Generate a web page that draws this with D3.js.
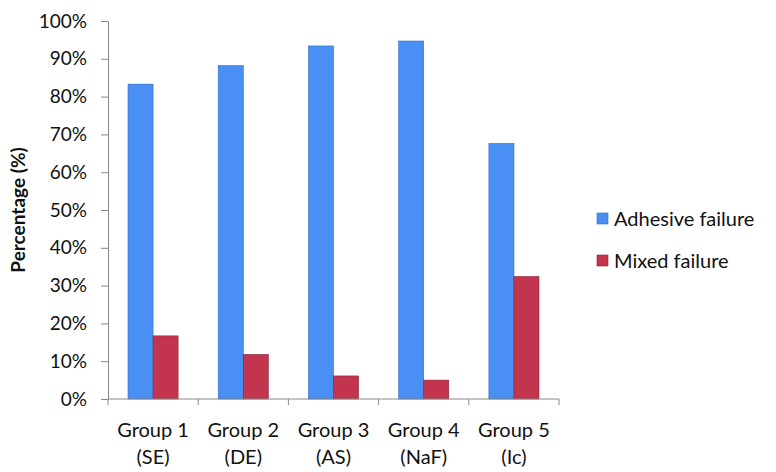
<!DOCTYPE html>
<html>
<head>
<meta charset="utf-8">
<script src="https://cdn.jsdelivr.net/npm/d3@7"></script>
<style>
  body { margin: 0; background: #fff; }
  svg text { font-family: Lato, "Open Sans", sans-serif; fill: #111; }
</style>
</head>
<body>
<div id="chart"></div>
<script>
// Chart data
var groups = ["Group 1", "Group 2", "Group 3", "Group 4", "Group 5"];
var subLabels = ["(SE)", "(DE)", "(AS)", "(NaF)", "(Ic)"];
var seriesNames = ["Adhesive failure", "Mixed failure"];
var adhesive = [83.3, 88.2, 93.4, 94.7, 67.6];
var mixed = [16.7, 11.8, 6.1, 5.0, 32.4];
var yTicks = [0, 10, 20, 30, 40, 50, 60, 70, 80, 90, 100];

function init() {
  var w = 776, h = 472;
  var margin = { left: 108, right: 217, top: 21, bottom: 73 };
  var colors = ["#4a8ff3", "#c3354f"];
  var strokes = ["#2f6cc4", "#8e2236"];

  var svg = d3.select("#chart").append("svg").attr("width", w).attr("height", h);

  // Scales
  var x = d3.scaleBand().domain(groups)
    .range([margin.left, w - margin.right])
    .paddingInner(0.445).paddingOuter(0.222);
  var xs = d3.scaleBand().domain(seriesNames).range([0, x.bandwidth()]);
  var y = d3.scaleLinear().domain([0, 100]).range([h - margin.bottom, margin.top]);

  // Bars
  var series = [adhesive, mixed];
  series.forEach(function (vals, s) {
    svg.append("g").selectAll("rect")
      .data(vals)
      .enter()
      .append("rect")
      .attr("x", (d, i) => x(groups[i]) + xs(seriesNames[s]))
      .attr("y", (d) => y(d))
      .attr("width", xs.bandwidth())
      .attr("height", (d) => y(0) - y(d))
      .attr("fill", colors[s])
      .attr("stroke", strokes[s])
      .attr("stroke-width", 0.6);
  });

  // Y axis
  var yAxis = svg.append("g")
    .attr("transform", "translate(" + margin.left + ",0)")
    .call(d3.axisLeft(y).tickValues(yTicks).tickFormat((d) => d + "%").tickSizeOuter(0).tickSize(7).tickPadding(14));
  yAxis.select(".domain").attr("stroke", "#888");
  yAxis.selectAll(".tick line").attr("stroke", "#888");
  yAxis.selectAll("text").style("font-size", "19px").attr("fill", "#111");

  // X axis: ticks at band boundaries
  var xAxisG = svg.append("g");
  xAxisG.append("line")
    .attr("x1", margin.left).attr("x2", w - margin.right)
    .attr("y1", y(0)).attr("y2", y(0))
    .attr("stroke", "#888");
  var step = x.step();
  var bounds = groups.map((g) => x(g) - step * x.paddingInner() / 2);
  bounds.push(w - margin.right);
  xAxisG.selectAll("line.tk")
    .data(bounds)
    .enter()
    .append("line")
    .attr("class", "tk")
    .attr("x1", (d) => d).attr("x2", (d) => d)
    .attr("y1", y(0)).attr("y2", y(0) + 6)
    .attr("stroke", "#888");

  // X labels (two lines)
  var lab = svg.append("g").selectAll("text")
    .data(groups)
    .enter()
    .append("text")
    .attr("text-anchor", "middle")
    .style("font-size", "20px");
  lab.append("tspan")
    .attr("x", (d) => x(d) + x.bandwidth() / 2)
    .attr("y", 437)
    .text((d) => d);
  lab.append("tspan")
    .attr("x", (d) => x(d) + x.bandwidth() / 2)
    .attr("y", 464)
    .text((d, i) => subLabels[i]);

  // Y axis title
  svg.append("text")
    .attr("transform", "translate(25," + ((margin.top + h - margin.bottom) / 2) + ") rotate(-90)")
    .attr("text-anchor", "middle")
    .style("font-size", "19px")
    .style("font-weight", "bold")
    .text("Percentage (%)");

  // Legend
  var legend = svg.append("g").selectAll("g")
    .data(seriesNames)
    .enter()
    .append("g")
    .attr("transform", (d, i) => "translate(597," + (213 + i * 42) + ")");
  legend.append("rect")
    .attr("width", 11).attr("height", 11)
    .attr("fill", (d, i) => colors[i])
    .attr("stroke", (d, i) => strokes[i])
    .attr("stroke-width", 0.6);
  legend.append("text")
    .attr("x", 17).attr("y", 13)
    .style("font-size", "20px")
    .text((d) => d);
}

window.onload = init;
</script>
</body>
</html>
